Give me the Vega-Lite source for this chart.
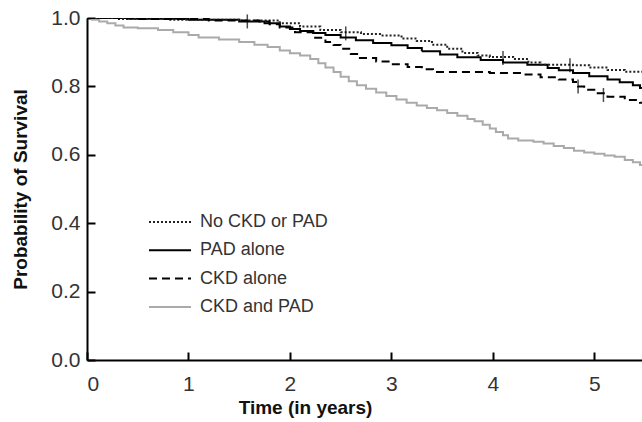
{
  "$schema": "https://vega.github.io/schema/vega-lite/v6.json",
  "width": 555,
  "height": 342,
  "autosize": "none",
  "padding": {"left": 87, "top": 18, "right": 0, "bottom": 62},
  "background": "white",
  "config": {
    "view": {"stroke": null},
    "font": "Liberation Sans",
    "axis": {"grid": false, "domainColor": "black", "domainWidth": 2, "tickColor": "black", "tickWidth": 2, "tickSize": -8, "labelColor": "#333", "labelFontSize": 21, "titleFontSize": 19, "titleFontWeight": "bold", "titleColor": "#111"}
  },
  "datasets": {
    "curves": [
      {"g": "CKD and PAD", "t": 0, "s": 1.0},
      {"g": "CKD and PAD", "t": 0.05, "s": 0.995},
      {"g": "CKD and PAD", "t": 0.12, "s": 0.99},
      {"g": "CKD and PAD", "t": 0.2, "s": 0.985},
      {"g": "CKD and PAD", "t": 0.28, "s": 0.978},
      {"g": "CKD and PAD", "t": 0.36, "s": 0.972},
      {"g": "CKD and PAD", "t": 0.5, "s": 0.97},
      {"g": "CKD and PAD", "t": 0.7, "s": 0.965},
      {"g": "CKD and PAD", "t": 0.85, "s": 0.958},
      {"g": "CKD and PAD", "t": 1.0, "s": 0.95},
      {"g": "CKD and PAD", "t": 1.1, "s": 0.943},
      {"g": "CKD and PAD", "t": 1.3, "s": 0.937},
      {"g": "CKD and PAD", "t": 1.5, "s": 0.93},
      {"g": "CKD and PAD", "t": 1.65, "s": 0.922},
      {"g": "CKD and PAD", "t": 1.78, "s": 0.915},
      {"g": "CKD and PAD", "t": 1.9, "s": 0.905},
      {"g": "CKD and PAD", "t": 2.0, "s": 0.897},
      {"g": "CKD and PAD", "t": 2.1, "s": 0.89},
      {"g": "CKD and PAD", "t": 2.2, "s": 0.88},
      {"g": "CKD and PAD", "t": 2.28, "s": 0.868},
      {"g": "CKD and PAD", "t": 2.35, "s": 0.855},
      {"g": "CKD and PAD", "t": 2.43, "s": 0.842},
      {"g": "CKD and PAD", "t": 2.5, "s": 0.828},
      {"g": "CKD and PAD", "t": 2.58, "s": 0.815},
      {"g": "CKD and PAD", "t": 2.66, "s": 0.803},
      {"g": "CKD and PAD", "t": 2.75, "s": 0.793},
      {"g": "CKD and PAD", "t": 2.85, "s": 0.782},
      {"g": "CKD and PAD", "t": 2.95, "s": 0.772},
      {"g": "CKD and PAD", "t": 3.05, "s": 0.762},
      {"g": "CKD and PAD", "t": 3.15, "s": 0.752},
      {"g": "CKD and PAD", "t": 3.25, "s": 0.744},
      {"g": "CKD and PAD", "t": 3.35, "s": 0.737},
      {"g": "CKD and PAD", "t": 3.45, "s": 0.73},
      {"g": "CKD and PAD", "t": 3.55, "s": 0.722},
      {"g": "CKD and PAD", "t": 3.65, "s": 0.714},
      {"g": "CKD and PAD", "t": 3.75, "s": 0.705},
      {"g": "CKD and PAD", "t": 3.82, "s": 0.698},
      {"g": "CKD and PAD", "t": 3.9, "s": 0.688},
      {"g": "CKD and PAD", "t": 3.97, "s": 0.677},
      {"g": "CKD and PAD", "t": 4.03, "s": 0.667},
      {"g": "CKD and PAD", "t": 4.1, "s": 0.657},
      {"g": "CKD and PAD", "t": 4.15, "s": 0.648},
      {"g": "CKD and PAD", "t": 4.25, "s": 0.642},
      {"g": "CKD and PAD", "t": 4.4, "s": 0.638},
      {"g": "CKD and PAD", "t": 4.5, "s": 0.633},
      {"g": "CKD and PAD", "t": 4.6, "s": 0.626},
      {"g": "CKD and PAD", "t": 4.7, "s": 0.62},
      {"g": "CKD and PAD", "t": 4.8, "s": 0.612},
      {"g": "CKD and PAD", "t": 4.9, "s": 0.607},
      {"g": "CKD and PAD", "t": 5.0, "s": 0.603},
      {"g": "CKD and PAD", "t": 5.1, "s": 0.598},
      {"g": "CKD and PAD", "t": 5.2, "s": 0.594},
      {"g": "CKD and PAD", "t": 5.3, "s": 0.585},
      {"g": "CKD and PAD", "t": 5.38, "s": 0.578},
      {"g": "CKD and PAD", "t": 5.45, "s": 0.57},
      {"g": "CKD and PAD", "t": 5.57, "s": 0.565},
      {"g": "PAD alone", "t": 0, "s": 1.0},
      {"g": "PAD alone", "t": 0.4, "s": 0.998},
      {"g": "PAD alone", "t": 1.0, "s": 0.995},
      {"g": "PAD alone", "t": 1.5, "s": 0.99},
      {"g": "PAD alone", "t": 1.75, "s": 0.985},
      {"g": "PAD alone", "t": 1.9, "s": 0.975},
      {"g": "PAD alone", "t": 2.0, "s": 0.968},
      {"g": "PAD alone", "t": 2.1, "s": 0.962},
      {"g": "PAD alone", "t": 2.23, "s": 0.956},
      {"g": "PAD alone", "t": 2.35, "s": 0.95},
      {"g": "PAD alone", "t": 2.5, "s": 0.943},
      {"g": "PAD alone", "t": 2.65, "s": 0.935},
      {"g": "PAD alone", "t": 2.82, "s": 0.927},
      {"g": "PAD alone", "t": 3.0, "s": 0.92},
      {"g": "PAD alone", "t": 3.16, "s": 0.912},
      {"g": "PAD alone", "t": 3.3, "s": 0.903},
      {"g": "PAD alone", "t": 3.48, "s": 0.893},
      {"g": "PAD alone", "t": 3.65, "s": 0.885},
      {"g": "PAD alone", "t": 3.88, "s": 0.877},
      {"g": "PAD alone", "t": 4.1, "s": 0.87},
      {"g": "PAD alone", "t": 4.34, "s": 0.863},
      {"g": "PAD alone", "t": 4.54, "s": 0.854},
      {"g": "PAD alone", "t": 4.65, "s": 0.847},
      {"g": "PAD alone", "t": 4.79, "s": 0.839},
      {"g": "PAD alone", "t": 4.95, "s": 0.83},
      {"g": "PAD alone", "t": 5.13, "s": 0.82},
      {"g": "PAD alone", "t": 5.25, "s": 0.812},
      {"g": "PAD alone", "t": 5.38, "s": 0.803},
      {"g": "PAD alone", "t": 5.45, "s": 0.795},
      {"g": "PAD alone", "t": 5.57, "s": 0.79},
      {"g": "No CKD or PAD", "t": 0, "s": 1.0},
      {"g": "No CKD or PAD", "t": 0.3, "s": 0.997},
      {"g": "No CKD or PAD", "t": 0.8, "s": 0.995},
      {"g": "No CKD or PAD", "t": 1.5, "s": 0.993},
      {"g": "No CKD or PAD", "t": 1.9, "s": 0.985},
      {"g": "No CKD or PAD", "t": 2.1, "s": 0.975},
      {"g": "No CKD or PAD", "t": 2.3, "s": 0.965},
      {"g": "No CKD or PAD", "t": 2.5, "s": 0.958},
      {"g": "No CKD or PAD", "t": 2.7, "s": 0.953},
      {"g": "No CKD or PAD", "t": 2.9, "s": 0.949},
      {"g": "No CKD or PAD", "t": 3.1, "s": 0.94},
      {"g": "No CKD or PAD", "t": 3.25, "s": 0.933},
      {"g": "No CKD or PAD", "t": 3.4, "s": 0.922},
      {"g": "No CKD or PAD", "t": 3.55, "s": 0.91},
      {"g": "No CKD or PAD", "t": 3.7, "s": 0.898},
      {"g": "No CKD or PAD", "t": 3.85, "s": 0.89},
      {"g": "No CKD or PAD", "t": 3.97, "s": 0.886},
      {"g": "No CKD or PAD", "t": 4.2, "s": 0.88},
      {"g": "No CKD or PAD", "t": 4.35, "s": 0.87},
      {"g": "No CKD or PAD", "t": 4.47, "s": 0.863},
      {"g": "No CKD or PAD", "t": 4.79, "s": 0.862},
      {"g": "No CKD or PAD", "t": 4.95, "s": 0.855},
      {"g": "No CKD or PAD", "t": 5.13, "s": 0.848},
      {"g": "No CKD or PAD", "t": 5.3, "s": 0.843},
      {"g": "No CKD or PAD", "t": 5.57, "s": 0.841},
      {"g": "CKD alone", "t": 0, "s": 1.0},
      {"g": "CKD alone", "t": 0.5, "s": 0.997},
      {"g": "CKD alone", "t": 1.2, "s": 0.993},
      {"g": "CKD alone", "t": 1.7, "s": 0.99},
      {"g": "CKD alone", "t": 1.8, "s": 0.982},
      {"g": "CKD alone", "t": 1.9, "s": 0.972},
      {"g": "CKD alone", "t": 2.05, "s": 0.958},
      {"g": "CKD alone", "t": 2.23, "s": 0.942},
      {"g": "CKD alone", "t": 2.35, "s": 0.93},
      {"g": "CKD alone", "t": 2.43, "s": 0.921},
      {"g": "CKD alone", "t": 2.5, "s": 0.91},
      {"g": "CKD alone", "t": 2.6, "s": 0.895},
      {"g": "CKD alone", "t": 2.69, "s": 0.883},
      {"g": "CKD alone", "t": 2.85, "s": 0.873},
      {"g": "CKD alone", "t": 3.0, "s": 0.865},
      {"g": "CKD alone", "t": 3.16, "s": 0.857},
      {"g": "CKD alone", "t": 3.3, "s": 0.85},
      {"g": "CKD alone", "t": 3.41, "s": 0.842},
      {"g": "CKD alone", "t": 3.97, "s": 0.839},
      {"g": "CKD alone", "t": 4.3, "s": 0.835},
      {"g": "CKD alone", "t": 4.47, "s": 0.827},
      {"g": "CKD alone", "t": 4.65, "s": 0.82},
      {"g": "CKD alone", "t": 4.79, "s": 0.813},
      {"g": "CKD alone", "t": 4.84, "s": 0.8},
      {"g": "CKD alone", "t": 4.9, "s": 0.79},
      {"g": "CKD alone", "t": 5.0, "s": 0.78},
      {"g": "CKD alone", "t": 5.13, "s": 0.77},
      {"g": "CKD alone", "t": 5.3, "s": 0.76},
      {"g": "CKD alone", "t": 5.45, "s": 0.752},
      {"g": "CKD alone", "t": 5.57, "s": 0.748}
    ],
    "censor": [
      {"t": 1.58, "s": 0.99},
      {"t": 2.55, "s": 0.955},
      {"t": 4.1, "s": 0.883},
      {"t": 4.76, "s": 0.862},
      {"t": 4.84, "s": 0.8},
      {"t": 5.09, "s": 0.775}
    ]
  },
  "layer": [
    {
      "data": {"name": "curves"},
      "mark": {"type": "line", "interpolate": "step-after", "strokeWidth": 2, "clip": true},
      "encoding": {
        "x": {"field": "t", "type": "quantitative", "scale": {"domain": [0, 5.47], "nice": false}, "axis": {"title": "Time (in years)", "values": [0, 1, 2, 3, 4, 5], "format": "d", "labelPadding": 21, "titlePadding": 4, "titleX": 218}},
        "y": {"field": "s", "type": "quantitative", "scale": {"domain": [0, 1], "nice": false}, "axis": {"title": "Probability of Survival", "values": [0, 0.2, 0.4, 0.6, 0.8, 1.0], "format": ".1f", "labelPadding": 15, "titlePadding": 20}},
        "color": {"field": "g", "type": "nominal", "scale": {"domain": ["No CKD or PAD", "PAD alone", "CKD alone", "CKD and PAD"], "range": ["#222222", "#000000", "#000000", "#aaaaaa"]},
          "legend": {"title": null, "orient": "none", "legendX": 61, "legendY": 191, "symbolType": "stroke", "symbolSize": 1764, "symbolStrokeWidth": 2, "labelFontSize": 18, "labelColor": "#333", "labelOffset": 8, "clipHeight": 26, "rowPadding": 2.3, "padding": 0}},
        "strokeDash": {"field": "g", "type": "nominal", "scale": {"domain": ["No CKD or PAD", "PAD alone", "CKD alone", "CKD and PAD"], "range": [[2, 2], [1, 0], [8, 5], [1, 0]]}, "legend": {"title": null, "orient": "none", "legendX": 61, "legendY": 191, "symbolType": "stroke", "symbolSize": 1764, "symbolStrokeWidth": 2, "labelFontSize": 18, "labelColor": "#333", "labelOffset": 8, "clipHeight": 26, "rowPadding": 2.3, "padding": 0}}
      }
    },
    {
      "data": {"name": "censor"},
      "mark": {"type": "tick", "orient": "vertical", "color": "black", "size": 14, "thickness": 1.5},
      "encoding": {
        "x": {"field": "t", "type": "quantitative"},
        "y": {"field": "s", "type": "quantitative"}
      }
    },
    {
      "mark": {"type": "rule", "color": "black", "strokeWidth": 2},
      "encoding": {"y": {"datum": 1}}
    }
  ]
}
